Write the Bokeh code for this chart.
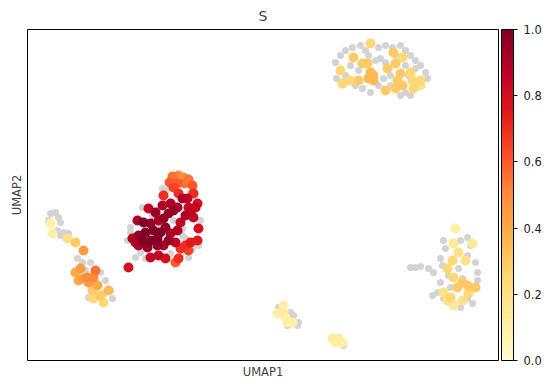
from bokeh.plotting import figure
from bokeh.models import Range1d, ColorBar, LinearColorMapper, FixedTicker, PrintfTickFormatter, ColumnDataSource
from bokeh.palettes import YlOrRd9, interp_palette
from bokeh.embed import file_html
from bokeh.resources import INLINE

# ---- data (UMAP coordinates, arbitrary units; umap2 grows downward in this table) ----
grey_x = [162,190,172,142,182,130,127,135,145,170,180,192,198,173,160,182,152,130,157,188,140,166,200,185,
          335,340,345,352,360,365,378,385,392,405,410,415,420,425,427,350,358,380,385,375,390,383,405,408,345,355,362,378,390,405,410,400,370,336,415,400,368,395,
          50,55,58,48,60,57,63,68,60,77,82,90,85,100,105,92,110,103,112,88,
          410,415,420,428,433,443,445,460,467,470,467,440,442,475,477,477,440,437,443,467,472,460,448,458,462,450,432,
          278,290,293,298,297,287,343]
grey_y = [188,192,202,207,228,232,240,257,258,253,255,248,245,220,225,235,215,227,210,257,252,190,220,238,
          62,55,50,47,45,50,47,45,47,50,55,60,65,72,78,65,70,58,62,60,75,78,65,75,75,85,88,85,85,92,95,95,92,78,68,45,55,55,
          213,212,217,220,222,230,232,233,235,258,262,262,270,272,280,288,290,293,298,297,
          267,267,266,268,272,240,248,240,237,245,255,258,265,262,272,280,282,292,298,298,303,307,275,268,278,287,295,
          307,312,315,322,325,325,345]

expr_x = [172,178,183,188,169,177,184,192,173,163,178,193,188,195,197,190,193,185,198,197,190,185,180,188,178,175,
          148,170,168,173,163,158,137,143,150,153,145,138,132,142,150,157,160,165,170,175,163,157,147,138,135,150,158,165,128,182,187,177,
          155,162,180,177,168,
          370,353,362,367,340,370,373,368,373,387,395,393,402,400,397,395,385,410,412,420,420,413,342,350,358,402,
          50,52,67,75,83,75,80,95,93,83,88,78,97,108,92,100,93,103,87,
          455,453,472,458,452,465,447,453,462,467,475,457,443,450,462,453,447,468,
          283,277,285,292,287,283,332,338,342,335]
expr_y = [176,175,177,179,182,183,183,185,187,195,193,193,207,207,203,212,217,215,228,240,242,245,248,250,258,262,
          208,203,213,210,218,220,220,222,223,230,232,235,238,240,240,238,232,227,233,242,245,245,247,245,242,257,255,258,267,198,198,207,
          212,205,222,230,240,
          43,57,63,63,70,72,75,78,80,68,63,52,57,73,80,88,90,72,80,80,85,88,83,80,80,85,
          223,233,238,242,250,272,268,270,277,278,282,280,285,290,290,295,298,302,277,
          228,243,243,252,260,260,268,277,282,285,287,287,292,297,300,305,300,293,
          305,313,317,322,322,312,338,338,342,342]
expr_val = [0.55,0.5,0.5,0.55,0.6,0.6,0.55,0.6,0.65,0.7,0.7,0.7,0.85,0.85,0.8,0.85,0.85,0.9,0.8,0.75,0.75,0.7,0.7,0.65,0.7,0.6,
            0.85,0.9,0.95,0.95,0.95,0.9,0.9,1.0,0.95,1.0,1.0,0.95,0.9,1.0,1.0,1.0,1.0,0.95,0.9,0.85,0.9,0.95,0.95,0.9,0.9,0.85,0.85,0.8,0.8,0.9,0.85,0.9,
            0.95,0.9,0.85,0.9,0.95,
            0.25,0.3,0.3,0.3,0.25,0.35,0.35,0.35,0.35,0.3,0.3,0.3,0.25,0.3,0.3,0.3,0.3,0.25,0.25,0.25,0.2,0.25,0.25,0.25,0.3,0.3,
            0.1,0.1,0.2,0.3,0.45,0.4,0.45,0.55,0.5,0.45,0.45,0.4,0.4,0.35,0.3,0.3,0.25,0.25,0.5,
            0.1,0.15,0.15,0.2,0.25,0.2,0.25,0.25,0.3,0.3,0.3,0.3,0.2,0.25,0.2,0.15,0.2,0.25,
            0.1,0.1,0.1,0.1,0.1,0.12,0.12,0.12,0.1,0.12]

cbar_ticks = [0.0, 0.2, 0.4, 0.6, 0.8, 1.0]

# ---- plot ----
palette = interp_palette(list(reversed(YlOrRd9)), 256)
mapper = LinearColorMapper(palette=palette, low=0.0, high=1.0)

order = sorted(range(len(expr_val)), key=lambda i: expr_val[i])
src = ColumnDataSource(dict(x=[expr_x[i] for i in order],
                            y=[expr_y[i] for i in order],
                            v=[expr_val[i] for i in order]))

p = figure(frame_width=471, frame_height=331,
           x_range=Range1d(27, 498), y_range=Range1d(360, 29),
           output_backend="svg", toolbar_location=None, title="S",
           min_border_left=27, min_border_right=0, min_border_top=0, min_border_bottom=0)
p.title.align = "center"
p.title.text_font = "DejaVu Sans"
p.title.text_font_size = "14px"
p.title.text_font_style = "normal"
p.title.standoff = 11

p.grid.visible = False
p.outline_line_color = "black"
p.outline_line_width = 1
p.outline_line_alpha = 1.0

for ax in (p.xaxis[0], p.yaxis[0]):
    ax.ticker = FixedTicker(ticks=[])
    ax.axis_line_color = None
    ax.major_tick_line_color = None
    ax.minor_tick_line_color = None
    ax.axis_label_text_font = "DejaVu Sans"
    ax.axis_label_text_font_size = "11.5px"
    ax.axis_label_text_font_style = "normal"
    ax.axis_label_standoff = 4
p.xaxis.axis_label = "UMAP1"
p.yaxis.axis_label = "UMAP2"

p.scatter(grey_x, grey_y, size=7, color="lightgray", line_color=None)
p.scatter("x", "y", source=src, size=10, line_color=None,
          fill_color={"field": "v", "transform": mapper})

cb = ColorBar(color_mapper=mapper, width=12, height=331, padding=0, margin=0,
              location=(3, 0),
              ticker=FixedTicker(ticks=cbar_ticks),
              formatter=PrintfTickFormatter(format="%.1f"),
              major_label_text_font="DejaVu Sans",
              major_label_text_font_size="11.5px",
              major_label_text_color="#222222",
              major_tick_line_color="black", major_tick_out=4, major_tick_in=0,
              bar_line_color="black", label_standoff=6,
              minor_tick_line_color=None)
p.add_layout(cb, "right")

open("out.html", "w").write(file_html(p, INLINE))
